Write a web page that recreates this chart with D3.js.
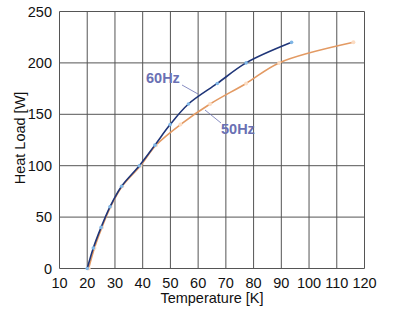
<!DOCTYPE html>
<html><head><meta charset="utf-8">
<script src="https://cdn.jsdelivr.net/npm/d3@7"></script>
<style>body{margin:0;background:#fff}svg{display:block}text{font-family:"Liberation Sans",Arial,sans-serif}</style>
</head><body><svg id="c" width="400" height="330"></svg>
<script>
const heatLoad = [0,20,40,60,80,100,120,140,160,180,200,220];
const temp60 = [20,22.2,25,28.2,32.4,38.8,44.4,49.9,56.5,66.9,77.3,93.7];
const temp50 = [20.5,22.6,25.3,28.4,32.6,39.2,44.8,53.6,64.3,77.3,89.2,116];
const xTicks = [10,20,30,40,50,60,70,80,90,100,110,120];
const yTicks = [0,50,100,150,200,250];
const seriesNames = ["60Hz","50Hz"];

const svg = d3.select("#c");
const x = d3.scaleLinear().domain([10,120]).range([59.5,364.5]);
const y = d3.scaleLinear().domain([0,250]).range([268.5,11.5]);
const grid = "#555";

const g = svg.append("g");
g.selectAll("line.vx").data(xTicks).enter().append("line")
  .attr("x1",d=>x(d)).attr("x2",d=>x(d)).attr("y1",y(0)).attr("y2",y(250))
  .attr("stroke",grid).attr("stroke-width",1);
g.selectAll("line.hy").data(yTicks).enter().append("line")
  .attr("y1",d=>y(d)).attr("y2",d=>y(d)).attr("x1",x(10)).attr("x2",x(120))
  .attr("stroke",grid).attr("stroke-width",1);

const fs = "14.5px";
g.selectAll("text.xt").data(xTicks).enter().append("text")
  .attr("x",d=>x(d)).attr("y",288).attr("text-anchor","middle")
  .attr("font-size",fs).attr("fill","#111").text(d=>d);
g.selectAll("text.yt").data(yTicks).enter().append("text")
  .attr("x",52).attr("y",d=>y(d)+5).attr("text-anchor","end")
  .attr("font-size",fs).attr("fill","#111").text(d=>d);

svg.append("text").attr("x",212).attr("y",303).attr("text-anchor","middle")
  .attr("font-size",fs).attr("fill","#111").text("Temperature [K]");
svg.append("text").attr("transform","translate(25,138) rotate(-90)").attr("text-anchor","middle")
  .attr("font-size",fs).attr("fill","#111").text("Heat Load [W]");

const line = d3.line().x(d=>x(d[0])).y(d=>y(d[1])).curve(d3.curveCatmullRom.alpha(0.5));
const d50 = temp50.map((t,i)=>[t,heatLoad[i]]);
const d60 = temp60.map((t,i)=>[t,heatLoad[i]]);

svg.append("path").datum(d50).attr("d",line).attr("fill","none").attr("stroke","#e39a63").attr("stroke-width",1.6);
svg.selectAll("circle.m50").data(d50).enter().append("circle")
  .attr("cx",d=>x(d[0])).attr("cy",d=>y(d[1])).attr("r",2).attr("fill","#fcdcc2");
svg.append("path").datum(d60).attr("d",line).attr("fill","none").attr("stroke","#1f3578").attr("stroke-width",1.6);
svg.selectAll("circle.m60").data(d60).enter().append("circle")
  .attr("cx",d=>x(d[0])).attr("cy",d=>y(d[1])).attr("r",1.8).attr("fill","#7fb6e6");

const lblColor = "#6a70b3";
svg.append("line").attr("x1",182).attr("y1",85).attr("x2",198).attr("y2",94).attr("stroke",lblColor).attr("stroke-width",0.8);
svg.append("text").attr("x",146).attr("y",83).attr("font-size","14.5px").attr("font-weight","bold").attr("fill",lblColor).text(seriesNames[0]);
svg.append("line").attr("x1",205).attr("y1",110).attr("x2",221).attr("y2",123).attr("stroke",lblColor).attr("stroke-width",0.8);
svg.append("text").attr("x",221).attr("y",134).attr("font-size","14.5px").attr("font-weight","bold").attr("fill",lblColor).text(seriesNames[1]);
</script></body></html>
